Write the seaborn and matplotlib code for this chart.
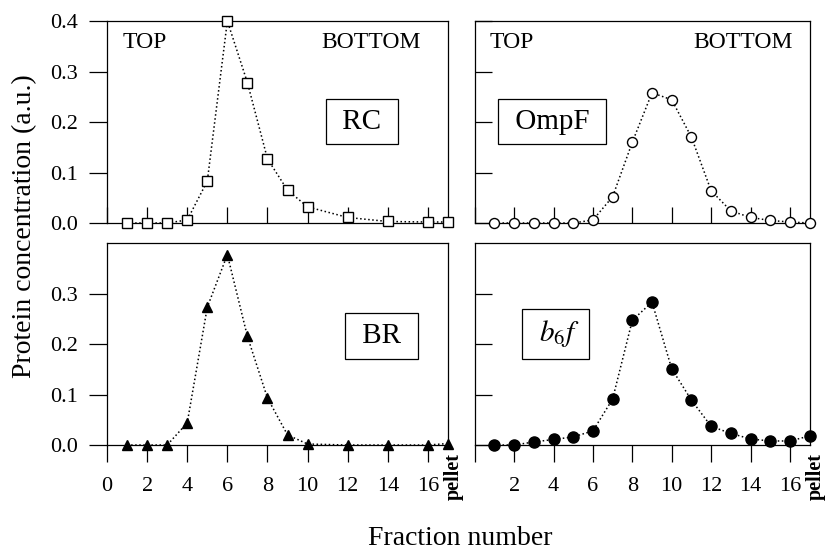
import matplotlib
matplotlib.use("Agg")
import matplotlib.pyplot as plt
import seaborn as sns
from matplotlib.ticker import FormatStrFormatter

# data
rc_x = [1, 2, 3, 4, 5, 6, 7, 8, 9, 10, 12, 14, 16, 17]
rc_y = [0.0, 0.0, 0.0, 0.006, 0.083, 0.400, 0.278, 0.127, 0.065, 0.032, 0.011, 0.003, 0.002, 0.002]

ompf_x = list(range(1, 18))
ompf_y = [0.0, 0.0, 0.0, 0.0, 0.0, 0.006, 0.052, 0.160, 0.258, 0.244, 0.170, 0.064, 0.024, 0.011, 0.005, 0.002, 0.0]

br_x = [1, 2, 3, 4, 5, 6, 7, 8, 9, 10, 12, 14, 16, 17]
br_y = [0.0, 0.0, 0.0, 0.044, 0.273, 0.377, 0.215, 0.093, 0.020, 0.002, 0.0, 0.0, 0.0, 0.003]

b6f_x = list(range(1, 18))
b6f_y = [0.0, 0.0, 0.006, 0.011, 0.016, 0.028, 0.091, 0.247, 0.283, 0.151, 0.089, 0.037, 0.023, 0.012, 0.008, 0.008, 0.018]

x_ticks = [0, 2, 4, 6, 8, 10, 12, 14, 16]
top_y_ticks = [0.0, 0.1, 0.2, 0.3, 0.4]
bottom_y_ticks = [0.0, 0.1, 0.2, 0.3]

sns.set_style("ticks")
plt.rcParams["font.family"] = ["Liberation Serif", "DejaVu Serif"]
plt.rcParams["mathtext.fontset"] = "stix"
for key in ["text.color", "axes.labelcolor", "xtick.color", "ytick.color", "axes.edgecolor"]:
    plt.rcParams[key] = "black"

fig = plt.figure(figsize=(8.27, 5.52), dpi=100)

# axes rectangles in figure fractions
left_x, left_w = 0.1294, 0.4123
right_x, right_w = 0.5740, 0.4050
top_y, bot_y, h = 0.5960, 0.1938, 0.3659

ax_rc = fig.add_axes([left_x, top_y, left_w, h])
ax_ompf = fig.add_axes([right_x, top_y, right_w, h])
ax_br = fig.add_axes([left_x, bot_y, left_w, h])
ax_b6f = fig.add_axes([right_x, bot_y, right_w, h])

box = dict(boxstyle="square,pad=0.33", facecolor="white", edgecolor="black", linewidth=0.9)


def draw_panel(ax, x, y, marker, face, ms, label, label_pos, top, left):
    sns.lineplot(
        x=x, y=y, ax=ax, color="black", linestyle=":", linewidth=1.1,
        marker=marker, markersize=ms, markerfacecolor=face,
        markeredgecolor="black", markeredgewidth=1.0, clip_on=False, zorder=3,
    )
    ax.set_xlim(0, 17)
    ax.set_ylim(0, 0.4)
    ax.set_xlabel("")
    ax.set_ylabel("")
    for s in ax.spines.values():
        s.set_visible(True)
        s.set_linewidth(0.9)
        s.set_color("black")

    ax.set_xticks(x_ticks)
    if top:
        ax.set_yticks(top_y_ticks)
        ax.tick_params(axis="x", direction="in", length=11.5, width=0.9, labelbottom=False)
        ax.text(0.045, 0.895, "TOP", transform=ax.transAxes, fontsize=17, ha="left", va="center")
        ax.text(0.92 if left else 0.95, 0.895, "BOTTOM", transform=ax.transAxes,
                fontsize=17, ha="right", va="center")
    else:
        ax.set_yticks(bottom_y_ticks)
        labels = [str(t) for t in x_ticks]
        if not left:
            labels[0] = ""
        ax.set_xticklabels(labels)
        ax.tick_params(axis="x", direction="out", length=12.2, width=0.9, labelsize=16, pad=11)
        ax.annotate("pellet", xy=(17, 0), xytext=(6, -8), textcoords="offset pixels",
                    rotation=90, ha="center", va="top", fontsize=14.5, fontweight="bold",
                    annotation_clip=False)

    if left:
        ax.yaxis.set_major_formatter(FormatStrFormatter("%.1f"))
        ax.tick_params(axis="y", direction="out", length=13, width=0.9, labelsize=16, pad=8)
    else:
        ax.tick_params(axis="y", direction="in", length=12, width=0.9, labelleft=False)

    ax.text(label_pos[0], label_pos[1], label, transform=ax.transAxes, fontsize=21,
            ha="center", va="center", bbox=box)


draw_panel(ax_rc, rc_x, rc_y, "s", "white", 6.5, " RC ", (0.748, 0.502), True, True)
draw_panel(ax_ompf, ompf_x, ompf_y, "o", "white", 7.2, " OmpF ", (0.232, 0.502), True, False)
draw_panel(ax_br, br_x, br_y, "^", "black", 7, " BR ", (0.805, 0.54), False, True)
draw_panel(ax_b6f, b6f_x, b6f_y, "o", "black", 8, r" $b_6f$ ", (0.241, 0.55), False, False)

fig.text(0.030, 0.59, "Protein concentration (a.u.)", rotation=90, fontsize=20,
         ha="center", va="center")
fig.text(0.557, 0.012, "Fraction number", fontsize=20, ha="center", va="baseline")

fig.savefig("out.png", dpi=100)
